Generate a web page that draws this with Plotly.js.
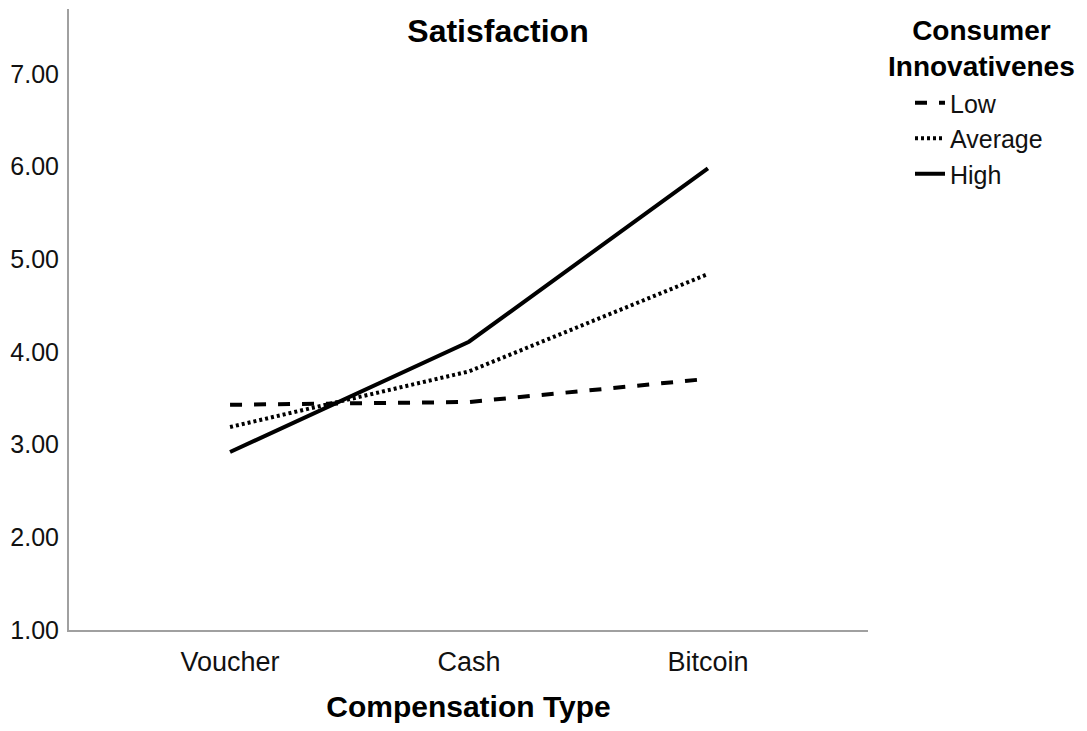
<!DOCTYPE html>
<html>
<head>
<meta charset="utf-8">
<script src="https://cdn.plot.ly/plotly-3.0.1.min.js"></script>
<style>html,body{margin:0;padding:0;background:#fff;}#chart{width:1087px;height:731px;}</style>
</head>
<body>
<div id="chart"></div>
<script>
const categories = ["Voucher", "Cash", "Bitcoin"];
const lowValues = [3.43, 3.46, 3.71];
const averageValues = [3.19, 3.79, 4.84];
const highValues = [2.92, 4.11, 5.98];
const seriesNames = ["Low", "Average", "High"];
const yTickValues = [1, 2, 3, 4, 5, 6, 7];
const yTickLabels = ["1.00", "2.00", "3.00", "4.00", "5.00", "6.00", "7.00"];
const legendTitleLines = ["Consumer", "Innovativenes"];

const FONT = "Liberation Sans, Arial, sans-serif";

const traces = [
  {x: categories, y: lowValues, name: seriesNames[0], type: "scatter", mode: "lines",
   line: {color: "#000", width: 4, dash: "12px,12px"}},
  {x: categories, y: averageValues, name: seriesNames[1], type: "scatter", mode: "lines",
   line: {color: "#000", width: 4, dash: "3px,3px"}},
  {x: categories, y: highValues, name: seriesNames[2], type: "scatter", mode: "lines",
   line: {color: "#000", width: 4}}
];

const layout = {
  width: 1087, height: 731,
  margin: {l: 69, r: 219, t: 9, b: 101},
  paper_bgcolor: "#fff", plot_bgcolor: "#fff",
  font: {family: FONT, color: "#000"},
  showlegend: true,
  title: {text: "<b>Satisfaction</b>", font: {family: FONT, size: 32, color: "#000"},
          x: 498/1087, xanchor: "center", xref: "container", y: 1 - 31/731, yanchor: "middle", yref: "container"},
  xaxis: {
    type: "category", range: [-0.674, 2.67], fixedrange: true,
    showline: true, linecolor: "#a0a0a0", linewidth: 2, zeroline: false, showgrid: false,
    ticks: "outside", ticklen: 7, tickcolor: "rgba(0,0,0,0)",
    tickfont: {family: FONT, size: 27, color: "#111"},
    title: {text: "<b>Compensation Type</b>", font: {family: FONT, size: 30, color: "#000"}, standoff: 20}
  },
  yaxis: {
    range: [1, 7.7], fixedrange: true,
    showline: true, linecolor: "#a0a0a0", linewidth: 2, zeroline: false, showgrid: false,
    tickvals: yTickValues, ticktext: yTickLabels,
    ticks: "outside", ticklen: 3, tickcolor: "rgba(0,0,0,0)",
    tickfont: {family: FONT, size: 25, color: "#111"}
  },
  legend: {
    x: (910-69)/799, xanchor: "left", y: 1 - (80-9)/621, yanchor: "top",
    font: {family: FONT, size: 25, color: "#111"},
    bgcolor: "rgba(0,0,0,0)", borderwidth: 0
  },
  annotations: [
    {text: "<b>" + legendTitleLines.join("<br>") + "</b>", xref: "paper", yref: "paper",
     x: (981-69)/799, y: 1 - (49-9)/621, xanchor: "center", yanchor: "middle", align: "center",
     showarrow: false, font: {family: FONT, size: 28, color: "#000"}}
  ]
};

Plotly.newPlot("chart", traces, layout, {displayModeBar: false, staticPlot: true});
</script>
</body>
</html>
